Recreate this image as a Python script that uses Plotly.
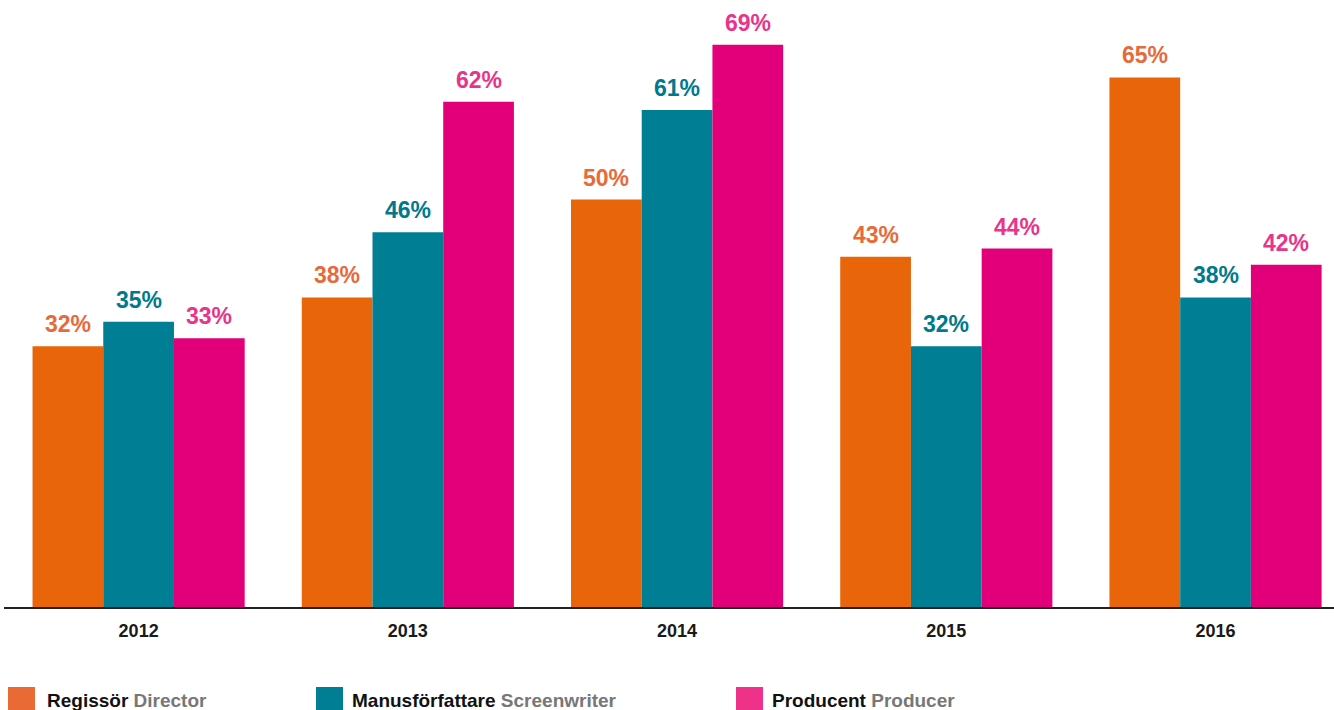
import plotly.graph_objects as go

years = ['2012', '2013', '2014', '2015', '2016']
director = [32, 38, 50, 43, 65]
screenwriter = [35, 46, 61, 32, 38]
producer = [33, 62, 69, 44, 42]

series_names = ['Regissör', 'Manusförfattare', 'Producent']
series_names_en = ['Director', 'Screenwriter', 'Producer']
bar_colors = ['#E8650A', '#007E93', '#E2007A']
label_colors = ['#E8693A', '#00798C', '#E8348A']
legend_colors = ['#E96A35', '#007E93', '#EE3189']

FONT = 'Liberation Sans, Arial, sans-serif'
BARGAP = 0.212

fig = go.Figure()
all_values = [director, screenwriter, producer]
for name, vals, col in zip(series_names, all_values, bar_colors):
    fig.add_trace(go.Bar(x=years, y=vals, name=name, marker=dict(color=col, line=dict(width=0)),
                         hoverinfo='x+y'))

# value labels above bars (offset to match each bar in its group)
w = (1 - BARGAP) / 3
for i, (vals, col) in enumerate(zip(all_values, label_colors)):
    for j, v in enumerate(vals):
        fig.add_annotation(x=j + (i - 1) * w, y=v, xref='x', yref='y', text='%d%%' % v,
                           showarrow=False, yanchor='bottom', yshift=7,
                           font=dict(family=FONT, size=23, color=col, weight=700))

# legend drawn by hand at the bottom
plot_l, plot_w, plot_h = 4, 1330, 607


def px_x(p):
    return (p - plot_l) / plot_w


def px_y(p):
    return (plot_h - p) / plot_h


legend_sq = [8, 316, 736]
legend_txt = [45, 350, 770]
for k in range(3):
    fig.add_shape(type='rect', xref='paper', yref='paper',
                  x0=px_x(legend_sq[k]), x1=px_x(legend_sq[k] + 27),
                  y0=px_y(687), y1=px_y(720),
                  fillcolor=legend_colors[k], line=dict(width=0))
    fig.add_annotation(x=px_x(legend_txt[k]), y=px_y(700), xref='paper', yref='paper',
                       xanchor='left', yanchor='middle', showarrow=False,
                       text='<b>%s</b> <span style="color:#777777"><b>%s</b></span>'
                            % (series_names[k], series_names_en[k]),
                       font=dict(family=FONT, size=19, color='#111111'))

fig.update_layout(
    width=1334, height=710,
    margin=dict(l=plot_l, r=0, t=0, b=103),
    barmode='group', bargap=BARGAP, bargroupgap=0,
    plot_bgcolor='white', paper_bgcolor='white',
    showlegend=False,
    font=dict(family=FONT),
)
fig.update_xaxes(type='category', range=[-0.5, 4.44], showline=True, linecolor='#222222', linewidth=2,
                 ticks='', showgrid=False, ticklabelstandoff=6,
                 tickfont=dict(family=FONT, size=18, color='#1a1a1a', weight=700))
fig.update_yaxes(range=[0, 74.5], visible=False, showgrid=False, zeroline=False)

# page has a default body margin; remove it so the figure sits at the corner
fig.write_html('out.html', config={'displayModeBar': False},
               post_script="document.body.style.margin='0';")
